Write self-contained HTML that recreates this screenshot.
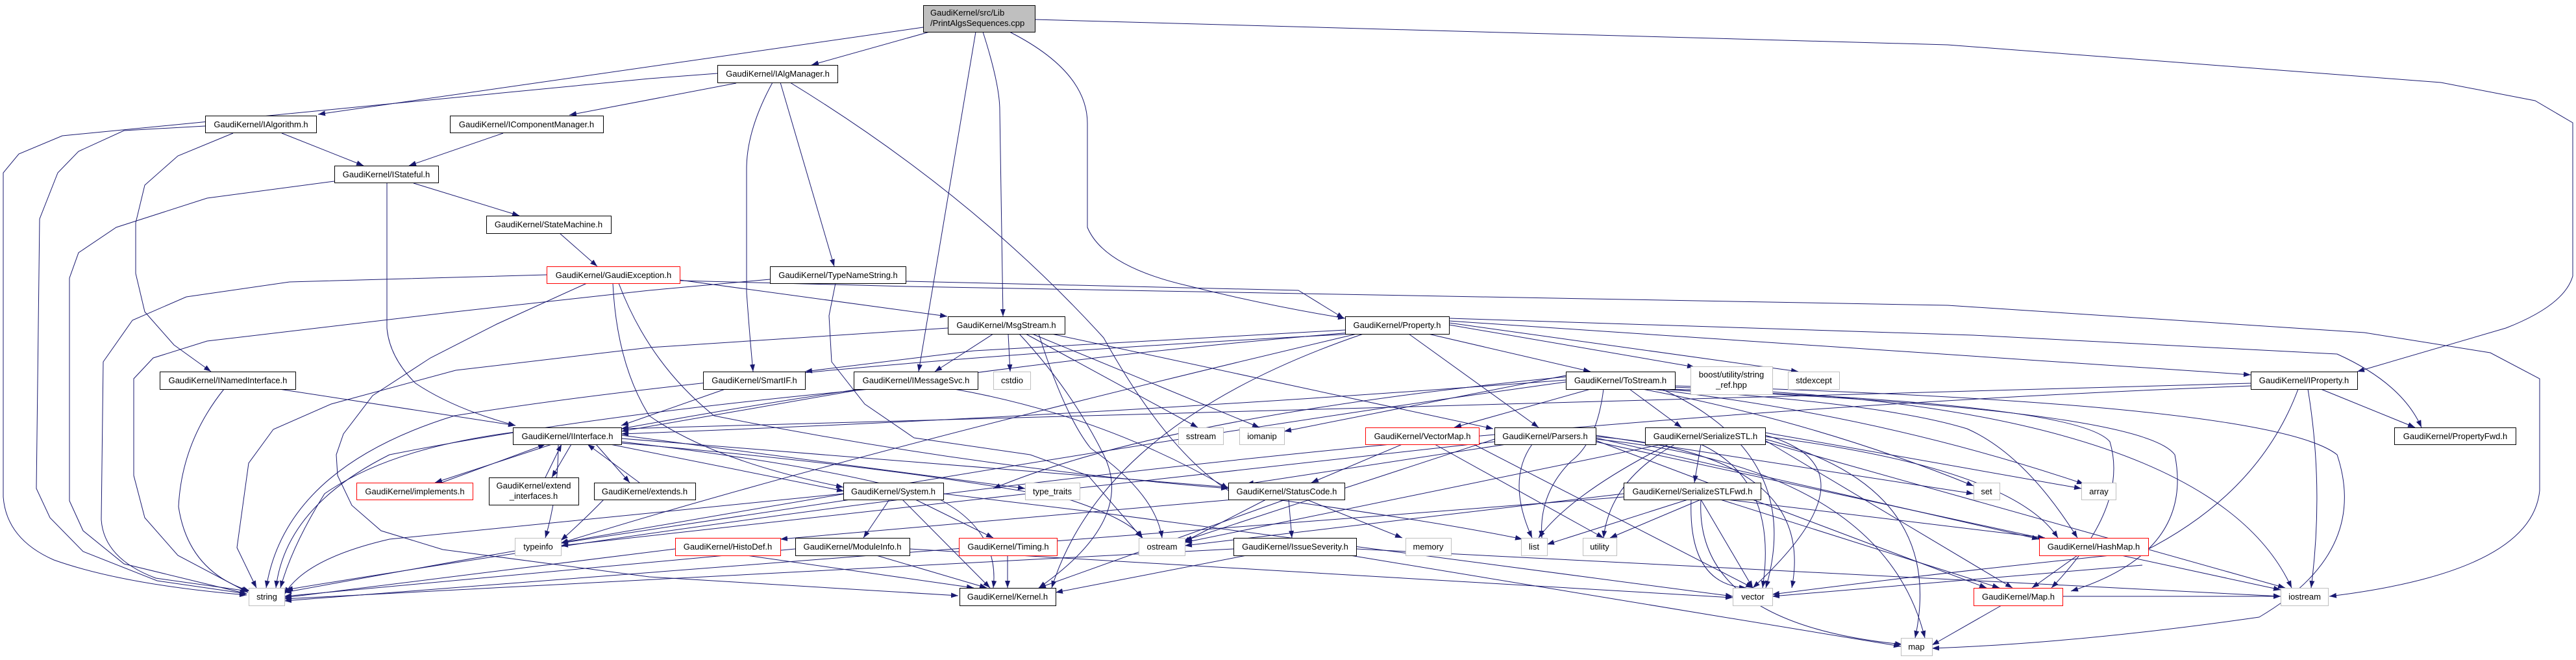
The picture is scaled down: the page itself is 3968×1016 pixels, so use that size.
<!DOCTYPE html>
<html><head><meta charset="utf-8"><style>
html,body{margin:0;padding:0;background:#fff;}
svg{display:block;}
text{font-family:"Liberation Sans",Arial,sans-serif;font-size:13px;fill:#000;}
.e{fill:none;stroke:#191970;stroke-width:1;}
.n{fill:#fff;stroke:#000;stroke-width:1;}
.g{fill:#fff;stroke:#bfbfbf;stroke-width:1;}
.r{fill:#fff;stroke:#ff0000;stroke-width:1;}
</style></head><body>
<svg width="3968" height="1016" viewBox="0 0 3968 1016" xmlns="http://www.w3.org/2000/svg">
<defs><marker id="a" markerWidth="11" markerHeight="8" refX="11" refY="4" orient="auto" markerUnits="userSpaceOnUse"><path d="M0,0 L11,4 L0,8z" fill="#191970"/></marker></defs>
<g class="e" marker-end="url(#a)">
<path d="M1422,42 L490,176"/>
<path d="M1432,49 L1250,100"/>
<path d="M1105,113 L1000,121 L96,209 L29,237 L5,266 L5,765 Q10,830 83,862 Q190,900 380,916"/>
<path d="M1134,128 L877,177"/>
<path d="M1190,127 Q1150,200 1150,260 L1150,450 Q1155,520 1160,572"/>
<path d="M1202,127 L1285,410"/>
<path d="M1217,127 Q1500,300 1700,520 Q1800,700 1900,760 Q2200,800 2345,830"/>
<path d="M1503,49 L1415,572"/>
<path d="M1514,49 Q1540,130 1540,170 L1545,487"/>
<path d="M1555,49 Q1675,110 1675,190 L1675,350 Q1700,410 1830,440 Q1950,470 2072,490"/>
<path d="M1594,30 L3000,69 L3760,127 L3905,155 L3963,189 L3963,425 Q3950,470 3860,505 L3631,572"/>
<path d="M316,194 L191,201 L121,233 L89,266 L61,337 L56,752 L77,797 L128,849 L242,894 L380,914"/>
<path d="M434,205 L560,255"/>
<path d="M359,205 L274,240 L223,285 L209,343 L209,421 L223,480 L268,531 L325,572"/>
<path d="M775,205 L630,255"/>
<path d="M515,279 L319,305 L179,350 L121,389 L107,428 L107,771 L128,817 L191,868 L380,914"/>
<path d="M596,282 L596,505 Q600,550 640,590 Q700,630 794,655"/>
<path d="M637,282 L800,332"/>
<path d="M862,359 L920,410"/>
<path d="M842,423 L446,434 L287,457 L204,493 L159,557 L156,800 Q160,860 240,890 L382,910"/>
<path d="M1186,430 L1000,447 L701,480 L319,525 L236,551 L206,583 L206,732 L223,797 L274,855 L382,912"/>
<path d="M904,436 L765,499 L663,551 L574,609 L529,668 L518,700 L520,732 L542,778 L587,817 L682,846 L1000,888 L1476,917"/>
<path d="M944,436 Q950,560 1000,640 Q1100,710 1299,750"/>
<path d="M953,436 Q1000,560 1100,640 Q1500,720 1892,752"/>
<path d="M1047,431 L1459,487"/>
<path d="M1047,432 L1400,441 L3000,470 L3642,512 L3836,543 L3912,583 L3912,755 Q3900,880 3588,918"/>
<path d="M1395,433 L2000,447 L2070,490"/>
<path d="M1287,436 L1277,486 L1281,557 L1332,622 L1408,674 L1587,700 L1676,732 L1759,828"/>
<path d="M1530,514 L1440,572"/>
<path d="M1553,514 L1556,572"/>
<path d="M1580,514 L1845,658"/>
<path d="M1590,514 L1940,658"/>
<path d="M1460,505 L1000,535 L702,570 L510,622 L421,661 L383,713 L365,843 L395,905"/>
<path d="M1600,514 Q1640,640 1680,690 Q1780,760 1790,828"/>
<path d="M1570,514 Q1650,600 1700,700 Q1750,800 1600,905"/>
<path d="M1620,514 L2300,660"/>
<path d="M2072,508 L1500,540 L1240,572"/>
<path d="M2080,512 Q1500,560 957,660"/>
<path d="M2085,514 Q1200,560 700,640 Q440,720 410,905"/>
<path d="M2100,514 Q1700,650 1620,905"/>
<path d="M2090,514 Q1300,700 864,836"/>
<path d="M2200,514 L2450,572"/>
<path d="M2170,514 L2370,658"/>
<path d="M2232,500 L2610,565"/>
<path d="M2232,497 L2770,572"/>
<path d="M2232,494 L3467,577"/>
<path d="M2232,490 L3040,516 L3600,545 Q3700,590 3730,658"/>
<path d="M430,599 L794,655"/>
<path d="M345,599 Q280,680 275,780 Q290,880 385,910"/>
<path d="M1117,599 L957,655"/>
<path d="M1330,599 L957,664"/>
<path d="M1470,599 Q1700,640 1892,752"/>
<path d="M1340,599 Q900,640 600,700 Q440,780 425,905"/>
<path d="M794,665 Q600,690 500,760 Q450,840 432,905"/>
<path d="M860,684 Q860,760 840,828"/>
<path d="M940,684 L1300,756"/>
<path d="M957,670 L1579,752"/>
<path d="M957,675 L1892,750"/>
<path d="M957,680 Q1300,720 1450,770 Q1540,820 1530,905"/>
<path d="M957,682 Q1400,720 1650,770 Q1740,800 1760,828"/>
<path d="M680,743 L840,684"/>
<path d="M850,684 L670,743"/>
<path d="M840,735 L865,684"/>
<path d="M880,684 L850,735"/>
<path d="M985,743 L905,684"/>
<path d="M918,684 L970,743"/>
<path d="M930,769 Q900,800 864,832"/>
<path d="M1299,760 Q1000,790 600,830 Q470,860 438,915"/>
<path d="M1310,769 L864,836"/>
<path d="M1370,769 L1330,828"/>
<path d="M1410,769 L1530,828"/>
<path d="M1390,769 L1525,905"/>
<path d="M1453,760 L1700,790 L2669,918"/>
<path d="M1350,855 L1520,905"/>
<path d="M1225,845 L438,918"/>
<path d="M1401,845 L2669,920"/>
<path d="M1040,845 L438,920"/>
<path d="M1150,855 L1500,905"/>
<path d="M1552,855 L1552,905"/>
<path d="M1900,769 L1202,830"/>
<path d="M1950,769 L1822,835"/>
<path d="M1980,769 L1600,905"/>
<path d="M1985,769 L1990,828"/>
<path d="M2010,768 L2160,828"/>
<path d="M1920,855 L1626,912"/>
<path d="M1900,845 L438,922"/>
<path d="M2080,855 L2928,995"/>
<path d="M2089,845 L3513,918"/>
<path d="M2412,580 Q1800,640 1530,752"/>
<path d="M2412,585 Q1700,640 957,668"/>
<path d="M2412,588 Q1600,700 438,912"/>
<path d="M2450,599 L2240,658"/>
<path d="M2470,599 Q2460,680 2420,710 Q2370,760 2375,828"/>
<path d="M2510,599 L2590,658"/>
<path d="M2412,578 L1978,664"/>
<path d="M2530,599 Q2800,650 3040,748"/>
<path d="M2545,599 Q2900,640 3210,745"/>
<path d="M2555,599 Q2900,620 3030,660 Q3120,700 3200,828"/>
<path d="M2565,599 Q3200,620 3250,680 Q3280,780 3160,905"/>
<path d="M2575,599 Q3300,630 3350,700 Q3380,850 3190,910"/>
<path d="M2575,596 Q3400,620 3530,905"/>
<path d="M2580,594 Q3500,620 3600,700 Q3650,850 3480,950 Q3200,990 2976,998"/>
<path d="M2560,599 Q2780,700 2720,905"/>
<path d="M2160,684 L2020,743"/>
<path d="M2210,684 L2470,828"/>
<path d="M2270,684 L2700,905"/>
<path d="M2320,684 L1920,745"/>
<path d="M2360,684 Q2320,740 2360,828"/>
<path d="M2458,670 L3040,760"/>
<path d="M2458,672 Q2800,700 2760,905"/>
<path d="M2458,676 Q2900,720 2965,982"/>
<path d="M2458,674 L3141,830"/>
<path d="M2458,678 L3060,905"/>
<path d="M2458,680 L3513,908"/>
<path d="M2302,676 L1825,832"/>
<path d="M2302,680 L864,840"/>
<path d="M2620,684 L2610,743"/>
<path d="M2570,684 Q2420,760 2370,828"/>
<path d="M2580,684 Q2480,740 2470,828"/>
<path d="M2620,684 Q2740,740 2715,905"/>
<path d="M2719,670 Q2900,720 2700,905"/>
<path d="M2719,676 Q3000,750 2950,982"/>
<path d="M2719,666 L3206,752"/>
<path d="M2719,672 Q3100,720 3170,828"/>
<path d="M2719,678 L3100,905"/>
<path d="M2719,680 L3520,905"/>
<path d="M2560,684 L1825,835"/>
<path d="M2600,769 L2383,838"/>
<path d="M2620,769 L2480,828"/>
<path d="M2605,769 Q2600,900 2690,905"/>
<path d="M2620,769 L2700,905"/>
<path d="M2620,769 Q2610,960 2930,992"/>
<path d="M2660,769 L3150,828"/>
<path d="M2650,769 L3080,905"/>
<path d="M2501,760 L1825,840"/>
<path d="M2501,765 L438,925"/>
<path d="M3467,590 L957,660"/>
<path d="M3467,594 Q2000,650 440,908"/>
<path d="M3540,599 Q3480,760 3300,850 Q3000,880 2730,915"/>
<path d="M3555,599 Q3580,750 3560,905"/>
<path d="M3575,599 L3720,658"/>
<path d="M3200,855 L3130,905"/>
<path d="M3083,932 L2976,993"/>
<path d="M3177,918 L3513,918"/>
<path d="M3300,870 L2730,918"/>
</g>
<!-- nodes -->
<rect x="1422.5" y="8.5" width="172" height="41" fill="#bfbfbf" stroke="#000"/>
<text x="1433" y="24">GaudiKernel/src/Lib</text>
<text x="1433" y="40">/PrintAlgsSequences.cpp</text>
<g text-anchor="middle">
<rect class="n" x="1105.5" y="100.5" width="185" height="27"/><text x="1198" y="118">GaudiKernel/IAlgManager.h</text>
<rect class="n" x="316.5" y="178.5" width="171" height="26"/><text x="402" y="196">GaudiKernel/IAlgorithm.h</text>
<rect class="n" x="693.5" y="178.5" width="236" height="26"/><text x="811" y="196">GaudiKernel/IComponentManager.h</text>
<rect class="n" x="515.5" y="255.5" width="160" height="26"/><text x="595" y="273">GaudiKernel/IStateful.h</text>
<rect class="n" x="749.5" y="332.5" width="192" height="27"/><text x="845" y="350">GaudiKernel/StateMachine.h</text>
<rect class="r" x="842.5" y="410.5" width="205" height="26"/><text x="945" y="428">GaudiKernel/GaudiException.h</text>
<rect class="n" x="1186.5" y="410.5" width="209" height="26"/><text x="1291" y="428">GaudiKernel/TypeNameString.h</text>
<rect class="n" x="1460.5" y="487.5" width="180" height="27"/><text x="1550" y="505">GaudiKernel/MsgStream.h</text>
<rect class="n" x="2072.5" y="487.5" width="160" height="27"/><text x="2152" y="505">GaudiKernel/Property.h</text>
<rect class="n" x="246.5" y="572.5" width="209" height="27"/><text x="351" y="590">GaudiKernel/INamedInterface.h</text>
<rect class="n" x="1083.5" y="572.5" width="157" height="27"/><text x="1162" y="590">GaudiKernel/SmartIF.h</text>
<rect class="n" x="1315.5" y="572.5" width="191" height="27"/><text x="1411" y="590">GaudiKernel/IMessageSvc.h</text>
<rect class="g" x="1530.5" y="572.5" width="57" height="27"/><text x="1559" y="590">cstdio</text>
<rect class="n" x="2412.5" y="572.5" width="168" height="27"/><text x="2496" y="590">GaudiKernel/ToStream.h</text>
<rect class="g" x="2604.5" y="564.5" width="126" height="43"/><text x="2667" y="581">boost/utility/string</text><text x="2667" y="597">_ref.hpp</text>
<rect class="g" x="2754.5" y="572.5" width="79" height="27"/><text x="2794" y="590">stdexcept</text>
<rect class="n" x="3467.5" y="572.5" width="164" height="27"/><text x="3549" y="590">GaudiKernel/IProperty.h</text>
<rect class="n" x="790.5" y="658.5" width="167" height="26"/><text x="874" y="676">GaudiKernel/IInterface.h</text>
<rect class="g" x="1815.5" y="658.5" width="69" height="26"/><text x="1850" y="676">sstream</text>
<rect class="g" x="1909.5" y="658.5" width="69" height="26"/><text x="1944" y="676">iomanip</text>
<rect class="r" x="2103.5" y="658.5" width="175" height="26"/><text x="2191" y="676">GaudiKernel/VectorMap.h</text>
<rect class="n" x="2302.5" y="658.5" width="156" height="26"/><text x="2380" y="676">GaudiKernel/Parsers.h</text>
<rect class="n" x="2534.5" y="658.5" width="185" height="26"/><text x="2627" y="676">GaudiKernel/SerializeSTL.h</text>
<rect class="n" x="3688.5" y="658.5" width="187" height="26"/><text x="3782" y="676">GaudiKernel/PropertyFwd.h</text>
<rect class="r" x="549.5" y="743.5" width="179" height="26"/><text x="639" y="761">GaudiKernel/implements.h</text>
<rect class="n" x="753.5" y="735.5" width="138" height="42"/><text x="822" y="752">GaudiKernel/extend</text><text x="822" y="768">_interfaces.h</text>
<rect class="n" x="915.5" y="743.5" width="156" height="26"/><text x="993" y="761">GaudiKernel/extends.h</text>
<rect class="n" x="1299.5" y="743.5" width="154" height="26"/><text x="1376" y="761">GaudiKernel/System.h</text>
<rect class="g" x="1579.5" y="743.5" width="84" height="26"/><text x="1621" y="761">type_traits</text>
<rect class="n" x="1892.5" y="743.5" width="179" height="26"/><text x="1982" y="761">GaudiKernel/StatusCode.h</text>
<rect class="n" x="2501.5" y="743.5" width="211" height="26"/><text x="2607" y="761">GaudiKernel/SerializeSTLFwd.h</text>
<rect class="g" x="3040.5" y="743.5" width="40" height="26"/><text x="3060" y="761">set</text>
<rect class="g" x="3206.5" y="743.5" width="53" height="26"/><text x="3233" y="761">array</text>
<rect class="g" x="793.5" y="828.5" width="71" height="27"/><text x="829" y="846">typeinfo</text>
<rect class="r" x="1040.5" y="828.5" width="162" height="27"/><text x="1121" y="846">GaudiKernel/HistoDef.h</text>
<rect class="n" x="1225.5" y="828.5" width="176" height="27"/><text x="1313" y="846">GaudiKernel/ModuleInfo.h</text>
<rect class="r" x="1477.5" y="828.5" width="151" height="27"/><text x="1553" y="846">GaudiKernel/Timing.h</text>
<rect class="g" x="1754.5" y="828.5" width="71" height="27"/><text x="1790" y="846">ostream</text>
<rect class="n" x="1900.5" y="828.5" width="189" height="27"/><text x="1995" y="846">GaudiKernel/IssueSeverity.h</text>
<rect class="g" x="2165.5" y="828.5" width="70" height="27"/><text x="2200" y="846">memory</text>
<rect class="g" x="2343.5" y="828.5" width="40" height="27"/><text x="2363" y="846">list</text>
<rect class="g" x="2438.5" y="828.5" width="52" height="27"/><text x="2464" y="846">utility</text>
<rect class="r" x="3141.5" y="828.5" width="168" height="27"/><text x="3225" y="846">GaudiKernel/HashMap.h</text>
<rect class="g" x="383.5" y="905.5" width="55" height="27"/><text x="411" y="923">string</text>
<rect class="n" x="1478.5" y="905.5" width="148" height="27"/><text x="1552" y="923">GaudiKernel/Kernel.h</text>
<rect class="g" x="2669.5" y="905.5" width="61" height="27"/><text x="2700" y="923">vector</text>
<rect class="r" x="3040.5" y="905.5" width="137" height="27"/><text x="3109" y="923">GaudiKernel/Map.h</text>
<rect class="g" x="3513.5" y="905.5" width="73" height="27"/><text x="3550" y="923">iostream</text>
<rect class="g" x="2928.5" y="982.5" width="48" height="27"/><text x="2952" y="1000">map</text>
</g>
</svg>
</body></html>
